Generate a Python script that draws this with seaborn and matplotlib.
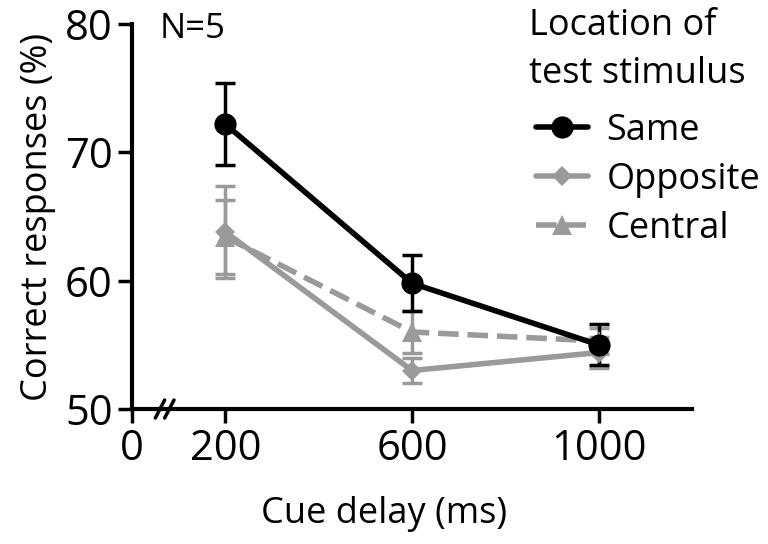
import matplotlib
matplotlib.use("Agg")
import matplotlib.pyplot as plt
import seaborn as sns
import pandas as pd
import numpy as np

delays = [200, 600, 1000]
same = [72.2, 59.8, 55.0]
same_err = [3.2, 2.2, 1.6]
opposite = [63.8, 53.0, 54.4]
opposite_err = [3.6, 1.0, 1.2]
central = [63.4, 56.0, 55.3]
central_err = [2.9, 1.6, 1.0]
series_names = ["Same", "Opposite", "Central"]
legend_title = ["Location of", "test stimulus"]

sns.set_style("ticks")
plt.rcParams['font.family'] = ['Open Sans', 'DejaVu Sans']
plt.rcParams['text.color'] = 'black'
plt.rcParams['axes.labelcolor'] = 'black'
plt.rcParams['xtick.color'] = 'black'
plt.rcParams['ytick.color'] = 'black'
plt.rcParams['axes.edgecolor'] = 'black'

df = pd.DataFrame({
    "delay": delays * 3,
    "value": same + opposite + central,
    "err": same_err + opposite_err + central_err,
    "series": [s for s in series_names for _ in delays],
})

W, H = 768, 544
fig = plt.figure(figsize=(W/100, H/100), dpi=100)
ax = fig.add_axes([132/W, 1-409/H, (692-132)/W, (409-24)/H])

styles = {
    "Same": dict(color="black", marker="o", ms=16, ls="-"),
    "Opposite": dict(color="#9a9a9a", marker="D", ms=10, ls="-"),
    "Central": dict(color="#9a9a9a", marker="^", ms=14, ls="--"),
}
order = ["Central", "Opposite", "Same"]
for name in order:
    sub = df[df.series == name]
    st = styles[name]
    ax.errorbar(sub.delay, sub.value, yerr=sub.err, fmt="none", ecolor=st["color"],
                elinewidth=2.5, capsize=7, capthick=2.5, zorder=2)
    sns.lineplot(data=sub, x="delay", y="value", ax=ax, color=st["color"], marker=st["marker"],
                 markersize=st["ms"], markeredgewidth=0, linewidth=4, linestyle=st["ls"],
                 dashes=False, label=name, zorder=3)

ax.set_xlim(0, 1200)
ax.set_ylim(50, 80)
ax.set_xticks([0, 200, 600, 1000])
ax.set_yticks([50, 60, 70, 80])
ax.tick_params(axis="both", labelsize=30, width=2.5, length=10, direction="out", pad=4)
for sp in ["left", "bottom"]:
    ax.spines[sp].set_linewidth(3)
sns.despine(ax=ax)
ax.set_xlabel("Cue delay (ms)", fontsize=26)
ax.xaxis.set_label_coords((384-132)/560, -(496-409)/385, transform=ax.transAxes)
ax.set_ylabel("Correct responses (%)", fontsize=26, labelpad=6)

# axis break marks
for dx in [-10, 10]:
    ax.plot([60 + dx, 80 + dx], [49.3, 50.7], color="black", lw=2.5, clip_on=False, zorder=5)

fig.text(160/W, 1-38/H, "N=5", fontsize=25, va="baseline", ha="left")

fig.text(529/W, 1-35/H, legend_title[0], fontsize=26, va="baseline", ha="left")
fig.text(529/W, 1-83/H, legend_title[1], fontsize=26, va="baseline", ha="left")

h, l = ax.get_legend_handles_labels()
hd = dict(zip(l, h))
leg = ax.legend([hd[n] for n in series_names], series_names,
                loc="upper left", bbox_to_anchor=(536/W, 1-113/H), bbox_transform=fig.transFigure,
                frameon=False, fontsize=26, handlelength=1.45, borderpad=0, borderaxespad=0,
                labelspacing=0.36, handletextpad=0.5)

fig.savefig("out.png", dpi=100)
